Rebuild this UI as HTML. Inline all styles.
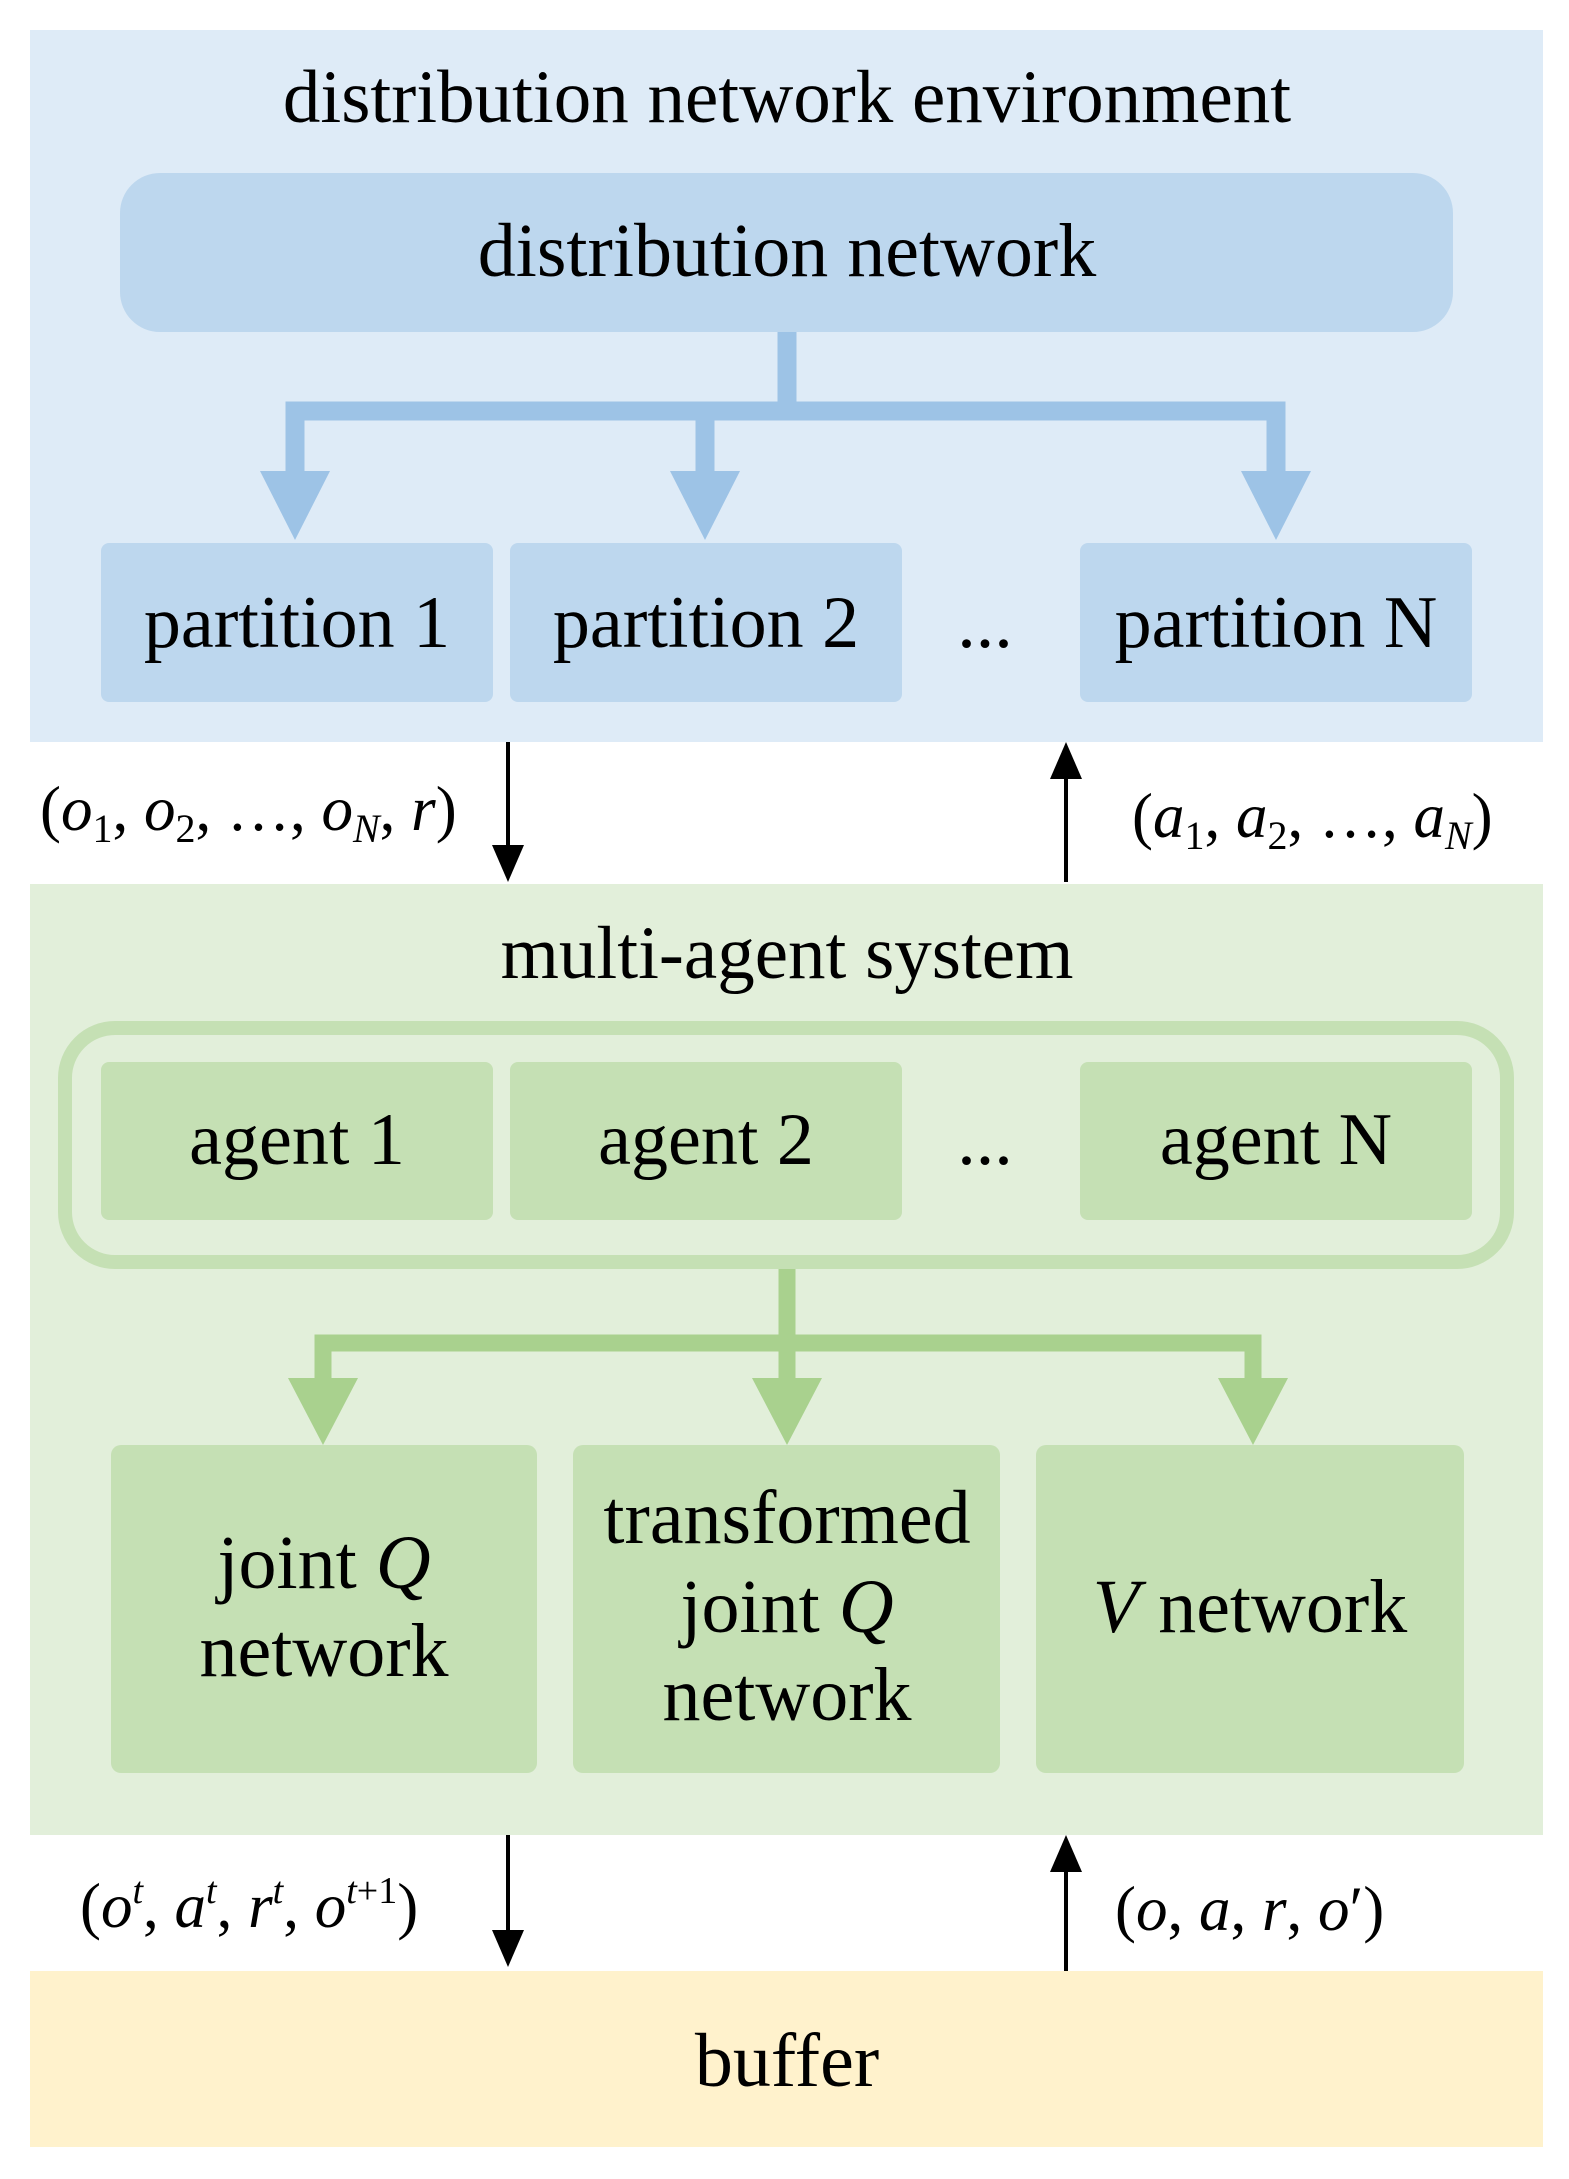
<!DOCTYPE html>
<html><head><meta charset="utf-8"><style>
html,body{margin:0;padding:0;background:#fff}
svg{display:block}
text{font-family:"Liberation Serif",serif;fill:#000}
</style></head><body>
<svg width="1569" height="2179" viewBox="0 0 1569 2179" xmlns="http://www.w3.org/2000/svg">
<rect x="30" y="30" width="1513" height="712" fill="#deebf7"/>
<text x="787" y="122" font-size="75" text-anchor="middle">distribution network environment</text>
<rect x="120" y="173" width="1333" height="159" rx="40" fill="#bdd7ee"/>
<text x="787" y="276" font-size="76" text-anchor="middle">distribution network</text>
<g fill="none" stroke="#9dc3e6" stroke-width="19">
<path d="M787 332 V411 M295 474 V411 H1276 V474 M705 411 V474"/>
</g>
<g fill="#9dc3e6">
<polygon points="260,471 330,471 295,540"/>
<polygon points="670,471 740,471 705,540"/>
<polygon points="1241,471 1311,471 1276,540"/>
</g>
<g fill="#bdd7ee">
<rect x="101" y="543" width="392" height="159" rx="8"/>
<rect x="510" y="543" width="392" height="159" rx="8"/>
<rect x="1080" y="543" width="392" height="159" rx="8"/>
</g>
<g font-size="74" text-anchor="middle">
<text x="297" y="647">partition 1</text>
<text x="706" y="647">partition 2</text>
<text x="985" y="647">...</text>
<text x="1276" y="647">partition N</text>
</g>
<g stroke="#000" stroke-width="4">
<line x1="508" y1="742" x2="508" y2="850"/>
<line x1="1066" y1="882" x2="1066" y2="774"/>
<line x1="508" y1="1835" x2="508" y2="1935"/>
<line x1="1066" y1="1971" x2="1066" y2="1866"/>
</g>
<g fill="#000">
<polygon points="492,845 524,845 508,882"/>
<polygon points="1050,779 1082,779 1066,742"/>
<polygon points="492,1930 524,1930 508,1967"/>
<polygon points="1050,1872 1082,1872 1066,1835"/>
</g>
<g font-size="63">
<text x="40" y="830">(<tspan font-style="italic">o</tspan><tspan font-size="40" dy="12">1</tspan><tspan dy="-12">, </tspan><tspan font-style="italic">o</tspan><tspan font-size="40" dy="12">2</tspan><tspan dy="-12">, …, </tspan><tspan font-style="italic">o</tspan><tspan font-size="40" font-style="italic" dy="12">N</tspan><tspan dy="-12">, </tspan><tspan font-style="italic">r</tspan>)</text>
<text x="1132" y="837">(<tspan font-style="italic">a</tspan><tspan font-size="40" dy="12">1</tspan><tspan dy="-12">, </tspan><tspan font-style="italic">a</tspan><tspan font-size="40" dy="12">2</tspan><tspan dy="-12">, …, </tspan><tspan font-style="italic">a</tspan><tspan font-size="40" font-style="italic" dy="12">N</tspan><tspan dy="-12">)</tspan></text>
<text x="80" y="1927">(<tspan font-style="italic">o</tspan><tspan font-size="38" font-style="italic" dy="-24">t</tspan><tspan dy="24">, </tspan><tspan font-style="italic">a</tspan><tspan font-size="38" font-style="italic" dy="-24">t</tspan><tspan dy="24">, </tspan><tspan font-style="italic">r</tspan><tspan font-size="38" font-style="italic" dy="-24">t</tspan><tspan dy="24">, </tspan><tspan font-style="italic">o</tspan><tspan font-size="38" dy="-24"><tspan font-style="italic">t</tspan>+1</tspan><tspan dy="24">)</tspan></text>
<text x="1115" y="1930">(<tspan font-style="italic">o</tspan>, <tspan font-style="italic">a</tspan>, <tspan font-style="italic">r</tspan>, <tspan font-style="italic">o</tspan>′)</text>
</g>
<rect x="30" y="884" width="1513" height="951" fill="#e2efda"/>
<text x="787" y="978" font-size="75" text-anchor="middle">multi-agent system</text>
<rect x="65" y="1028" width="1442" height="234" rx="50" fill="none" stroke="#c5e0b4" stroke-width="14"/>
<g fill="#c5e0b4">
<rect x="101" y="1062" width="392" height="158" rx="8"/>
<rect x="510" y="1062" width="392" height="158" rx="8"/>
<rect x="1080" y="1062" width="392" height="158" rx="8"/>
</g>
<g font-size="74" text-anchor="middle">
<text x="297" y="1164">agent 1</text>
<text x="706" y="1164">agent 2</text>
<text x="985" y="1164">...</text>
<text x="1276" y="1164">agent N</text>
</g>
<g fill="none" stroke="#a9d18e" stroke-width="17">
<path d="M787 1269 V1343 M323 1382 V1343 H1253 V1382 M787 1343 V1382"/>
</g>
<g fill="#a9d18e">
<polygon points="288,1378 358,1378 323,1445"/>
<polygon points="752,1378 822,1378 787,1445"/>
<polygon points="1218,1378 1288,1378 1253,1445"/>
</g>
<g fill="#c5e0b4">
<rect x="111" y="1445" width="426" height="328" rx="10"/>
<rect x="573" y="1445" width="427" height="328" rx="10"/>
<rect x="1036" y="1445" width="428" height="328" rx="10"/>
</g>
<g font-size="76" text-anchor="middle">
<text x="324" y="1588">joint <tspan font-style="italic">Q</tspan></text>
<text x="324" y="1676">network</text>
<text x="787" y="1543">transformed</text>
<text x="787" y="1632">joint <tspan font-style="italic">Q</tspan></text>
<text x="787" y="1720">network</text>
<text x="1250" y="1632"><tspan font-style="italic">V</tspan> network</text>
</g>
<rect x="30" y="1971" width="1513" height="176" fill="#fff2cc"/>
<text x="787" y="2086" font-size="76" text-anchor="middle">buffer</text>
</svg>
</body></html>
